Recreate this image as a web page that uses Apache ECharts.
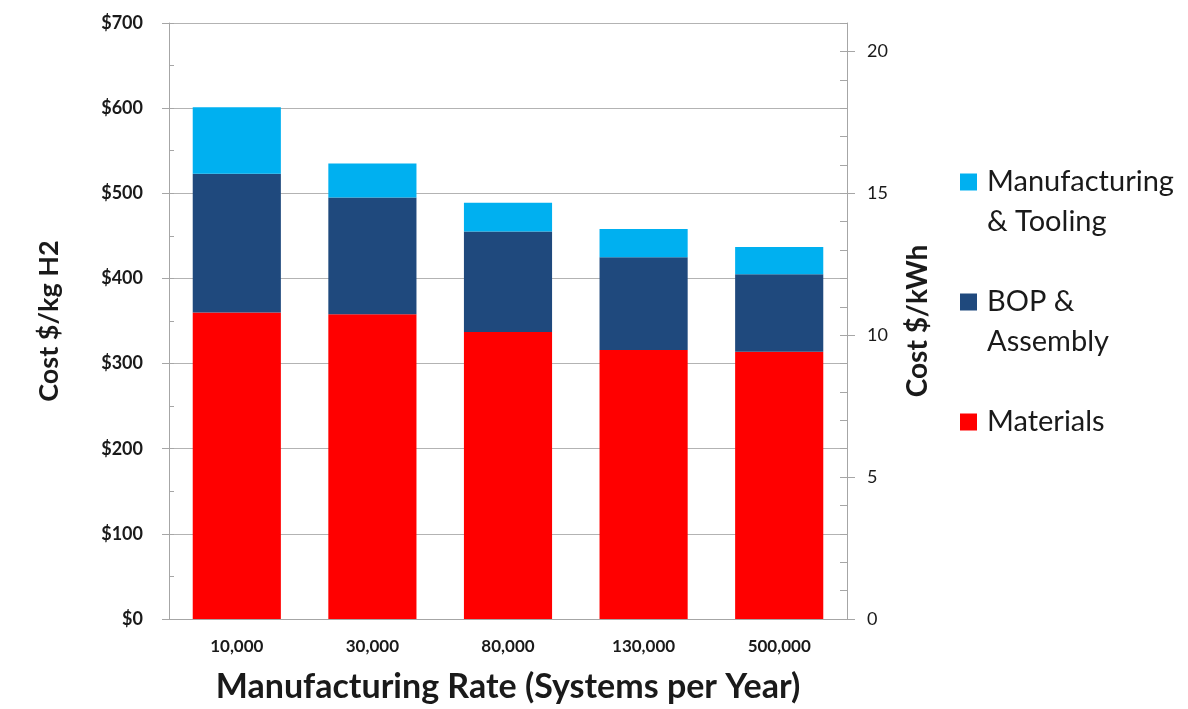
<!DOCTYPE html>
<html>
<head>
<meta charset="utf-8">
<script src="https://cdn.jsdelivr.net/npm/echarts@6/dist/echarts.min.js"></script>
<style>
  html, body { margin: 0; padding: 0; background: #fff; }
  #main { width: 1188px; height: 709px; }
</style>
</head>
<body>
<div id="main"></div>
<script>
  // 数据
  const categories = ['10,000', '30,000', '80,000', '130,000', '500,000']
  const materials = [360, 358, 337, 316, 314]
  const bopAssembly = [163, 137, 118, 109, 91]
  const mfgTooling = [78, 40, 34, 33, 32]
  const rightTicks = [0, 5, 10, 15, 20]

  const font = 'Lato'
  const axisGray = '#a6a6a6'
  const textColor = '#1a1a1a'

  let chart = echarts.init(document.getElementById('main'))

  // one legend per item; a leading empty line puts the icon on the first text line
  function legendItem (name, top, twoLines) {
    return {
      data: [name],
      left: 960,
      top: top,
      padding: 0,
      icon: 'rect',
      itemWidth: 17,
      itemHeight: 17,
      selectedMode: false,
      formatter: n => twoLines ? '\n' + n : n,
      textStyle: {
        fontFamily: font,
        fontSize: 29,
        color: textColor,
        lineHeight: 40,
        padding: [0, 0, 0, 5]
      }
    }
  }

  chart.setOption({
    animation: false,
    color: ['#ff0000', '#1f497d', '#00b0f0'],
    grid: {
      left: 169,
      right: 341,
      top: 23,
      bottom: 88
    },
    legend: [
      legendItem('Manufacturing\n& Tooling', 122, true),
      legendItem('BOP &\nAssembly', 242, true),
      legendItem('Materials', 402, false)
    ],
    xAxis: {
      type: 'category',
      data: categories,
      axisLine: { lineStyle: { color: axisGray } },
      axisTick: { show: false },
      axisLabel: {
        margin: 19,
        fontFamily: font,
        fontSize: 17,
        fontWeight: 'bold',
        color: textColor
      },
      name: 'Manufacturing Rate (Systems per Year)',
      nameLocation: 'middle',
      nameGap: 51,
      nameTextStyle: {
        fontFamily: font,
        fontSize: 34,
        fontWeight: 'bold',
        color: textColor
      }
    },
    yAxis: [
      {
        type: 'value',
        position: 'left',
        min: 0,
        max: 700,
        interval: 100,
        axisLine: { show: true, lineStyle: { color: axisGray } },
        axisTick: { show: true, length: 7, lineStyle: { color: axisGray } },
        splitLine: { lineStyle: { color: '#b3b3b3' } },
        axisLabel: {
          margin: 26,
          formatter: v => '$' + v,
          fontFamily: font,
          fontSize: 18,
          fontWeight: 'bold',
          color: textColor
        },
        name: 'Cost $/kg H2',
        nameLocation: 'middle',
        nameRotate: 90,
        nameGap: 106,
        nameTextStyle: {
          fontFamily: font,
          fontSize: 27,
          fontWeight: 'bold',
          color: textColor
        }
      },
      {
        type: 'value',
        position: 'right',
        min: 0,
        max: 21,
        axisLine: { show: true, lineStyle: { color: axisGray } },
        axisTick: { show: true, length: 8, customValues: rightTicks, lineStyle: { color: axisGray } },
        splitLine: { show: false },
        axisLabel: {
          margin: 20,
          customValues: rightTicks,
          fontFamily: font,
          fontSize: 18,
          color: textColor
        },
        name: 'Cost $/kWh',
        nameLocation: 'middle',
        nameRotate: 90,
        nameGap: 57,
        nameTextStyle: {
          fontFamily: font,
          fontSize: 28,
          fontWeight: 'bold',
          color: textColor
        }
      },
      {
        // 左侧次刻度
        type: 'value',
        position: 'left',
        min: 0,
        max: 700,
        interval: 50,
        axisLine: { show: false },
        axisTick: { show: true, inside: true, length: 5, lineStyle: { color: axisGray } },
        axisLabel: { show: false },
        splitLine: { show: false }
      },
      {
        // 右侧次刻度
        type: 'value',
        position: 'right',
        min: 0,
        max: 21,
        interval: 1,
        axisLine: { show: false },
        axisTick: { show: true, inside: true, length: 7, lineStyle: { color: axisGray } },
        axisLabel: { show: false },
        splitLine: { show: false }
      }
    ],
    series: [
      {
        name: 'Materials',
        type: 'bar',
        stack: 'cost',
        barWidth: '65%',
        data: materials
      },
      {
        name: 'BOP &\nAssembly',
        type: 'bar',
        stack: 'cost',
        data: bopAssembly
      },
      {
        name: 'Manufacturing\n& Tooling',
        type: 'bar',
        stack: 'cost',
        data: mfgTooling
      }
    ]
  })
</script>
</body>
</html>
